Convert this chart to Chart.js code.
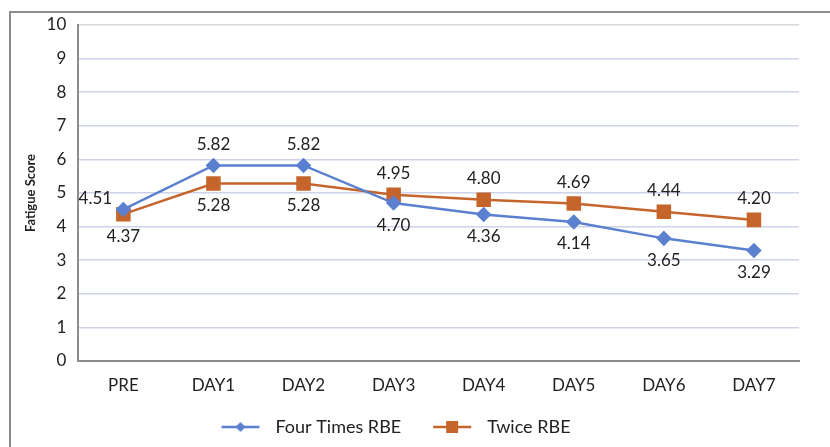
<!DOCTYPE html>
<html>
<head>
<meta charset="utf-8">
<script src="https://cdn.jsdelivr.net/npm/chart.js@4.4.0/dist/chart.umd.min.js"></script>
<style>
  html, body { margin: 0; padding: 0; background: #fff; overflow: hidden; }
  #wrap { position: relative; width: 830px; height: 447px; }
  #frame { position: absolute; left: 9px; top: 11px; width: 840px; height: 460px; border: 2px solid #8c8c8c; box-sizing: border-box; }
  canvas { position: absolute; left: 0; top: 0; }
</style>
</head>
<body>
<div id="wrap">
  <div id="frame"></div>
  <canvas id="fatigueChart" width="830" height="447"></canvas>
</div>
<script>
// data
const days = ['PRE', 'DAY1', 'DAY2', 'DAY3', 'DAY4', 'DAY5', 'DAY6', 'DAY7'];
const fourTimes = [4.51, 5.82, 5.82, 4.70, 4.36, 4.14, 3.65, 3.29];
const twice = [4.37, 5.28, 5.28, 4.95, 4.80, 4.69, 4.44, 4.20];
const yTicks = [0, 1, 2, 3, 4, 5, 6, 7, 8, 9, 10];

// where each value label sits relative to its point
const fourTimesLabelPos = ['topLeft', 'top', 'top', 'bottom', 'bottom', 'bottom', 'bottom', 'bottom'];
const twiceLabelPos = ['bottom', 'bottom', 'bottom', 'top', 'top', 'top', 'top', 'top'];

const BLUE = '#5b80cf';
const ORANGE = '#c5652b';
const FONT = 'Lato, "Open Sans", sans-serif';

// legend swatch: blank lead-in, then a short line with the marker in the middle
function swatch(color, shape) {
  const c = document.createElement('canvas');
  c.width = 60; c.height = 14;
  const g = c.getContext('2d');
  g.strokeStyle = color; g.fillStyle = color; g.lineWidth = 2.5;
  g.beginPath(); g.moveTo(15, 7); g.lineTo(53, 7); g.stroke();
  if (shape === 'diamond') {
    g.beginPath(); g.moveTo(34, 2); g.lineTo(39, 7); g.lineTo(34, 12); g.lineTo(29, 7); g.closePath(); g.fill();
  } else {
    g.fillRect(28, 1, 12, 12);
  }
  return c;
}

const valueLabels = {
  id: 'valueLabels',
  afterDatasetsDraw(chart) {
    const ctx = chart.ctx;
    ctx.save();
    ctx.font = '17px ' + FONT;
    ctx.fillStyle = '#222';
    ctx.textAlign = 'center';
    ctx.textBaseline = 'middle';
    chart.data.datasets.forEach((ds, i) => {
      const meta = chart.getDatasetMeta(i);
      meta.data.forEach((pt, j) => {
        const pos = ds.labelPos[j];
        let x = pt.x, y = pt.y;
        if (pos === 'top') y -= 21;
        else if (pos === 'bottom') y += 22;
        else if (pos === 'topLeft') { x -= 28; y -= 11; }
        ctx.fillText(ds.data[j].toFixed(2), x, y);
      });
    });
    ctx.restore();
  }
};

// the swatch lead-in pushes the legend right; pull it back
const legendShift = {
  id: 'legendShift',
  afterLayout(chart) {
    if (chart.legend) { chart.legend.left -= 16; chart.legend.right -= 16; }
  }
};

const ctx = document.getElementById('fatigueChart').getContext('2d');
new Chart(ctx, {
  type: 'line',
  data: {
    labels: days,
    datasets: [{
      label: 'Four Times RBE',
      data: fourTimes,
      labelPos: fourTimesLabelPos,
      borderColor: BLUE,
      backgroundColor: BLUE,
      borderWidth: 2.5,
      pointStyle: 'rectRot',
      pointRadius: 6,
      pointHoverRadius: 6,
      legendSwatch: swatch(BLUE, 'diamond'),
      tension: 0
    }, {
      label: 'Twice RBE',
      data: twice,
      labelPos: twiceLabelPos,
      borderColor: ORANGE,
      backgroundColor: ORANGE,
      borderWidth: 2.5,
      pointStyle: 'rect',
      pointRadius: 8.5,
      pointHoverRadius: 8.5,
      legendSwatch: swatch(ORANGE, 'square'),
      tension: 0
    }]
  },
  options: {
    responsive: false,
    animation: false,
    layout: { padding: { top: 25, right: 31, bottom: 1, left: 10 } },
    plugins: {
      tooltip: { enabled: false },
      legend: {
        position: 'bottom',
        labels: {
          usePointStyle: true,
          pointStyleWidth: 60,
          padding: 17,
          color: '#222',
          font: { family: FONT, size: 18 },
          generateLabels(chart) {
            return chart.data.datasets.map((ds, i) => ({
              text: ds.label,
              pointStyle: ds.legendSwatch,
              fillStyle: ds.borderColor,
              strokeStyle: ds.borderColor,
              lineWidth: 0,
              fontColor: '#222',
              datasetIndex: i
            }));
          }
        }
      }
    },
    scales: {
      x: {
        offset: true,
        grid: { display: false, drawTicks: false, offset: true },
        border: { color: '#8c8c8c', width: 2 },
        ticks: { color: '#222', padding: 14, font: { family: FONT, size: 17 } },
        afterFit(scale) { scale.height = 40; }
      },
      y: {
        min: 0,
        max: 10,
        afterBuildTicks(scale) { scale.ticks = yTicks.map(v => ({ value: v })); },
        grid: {
          drawTicks: false,
          color: c => c.tick && c.tick.value === 10 ? '#d9d9d9' : '#cdd4ea',
          lineWidth: 1.5
        },
        border: { color: '#8c8c8c', width: 2 },
        ticks: { color: '#222', padding: 12, font: { family: FONT, size: 17 } },
        title: {
          display: true,
          text: 'Fatigue Score',
          color: '#222',
          padding: { top: 13, bottom: -4 },
          font: { family: FONT, size: 13, weight: 'bold' }
        }
      }
    }
  },
  plugins: [valueLabels, legendShift]
});
</script>
</body>
</html>
